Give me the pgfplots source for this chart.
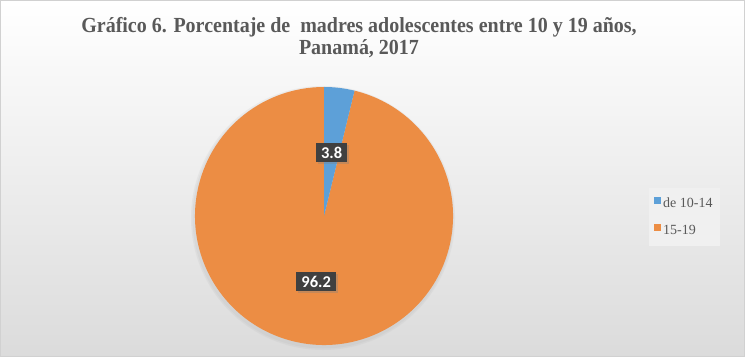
\documentclass[border=0pt]{standalone}
\usepackage{fontspec}
\setmainfont{Liberation Serif}
\newfontfamily\titlefont[FakeStretch=0.93]{Liberation Serif}
\newfontfamily\lblfont{Carlito}
\usepackage{pgfplots}
\usepackage{pgfplotstable}
\pgfplotsset{compat=1.18}
\usetikzlibrary{shadows,calc}
\definecolor{pieblue}{HTML}{5DA0D8}
\definecolor{pieorange}{HTML}{EC8D44}
\definecolor{titlegray}{HTML}{595959}
\definecolor{lblbox}{HTML}{404040}
\pgfplotstableread{
label value
{de 10-14} 3.8
15-19 96.2
}\piedata
\pgfplotstablegetelem{0}{value}\of\piedata
\xdef\valA{\pgfplotsretval}
\pgfplotstablegetelem{1}{value}\of\piedata
\xdef\valB{\pgfplotsretval}
\pgfmathsetmacro\aend{90-3.6*\valA}
\pgfmathsetmacro\amidA{(90+\aend)/2}
\pgfmathsetmacro\amidB{(\aend-270)/2}
\begin{document}
\begin{tikzpicture}[x=1bp,y=1bp]
\shade[top color=white, bottom color=black!14, draw=black!18, line width=0.8bp] (0.4,0.4) rectangle (744.6,356.6);
\begin{axis}[
  at={(0,0)}, anchor=south west,
  width=745bp, height=357bp, scale only axis,
  xmin=0, xmax=745, ymin=0, ymax=357,
  hide axis, clip=false,
  legend style={at={(axis cs:649,169)}, anchor=north west,
    fill=black!6, draw=none, font=\fontsize{14bp}{16bp}\selectfont, text=titlegray,
    row sep=12bp, inner xsep=5bp, inner ysep=8bp},
  legend cell align=left,
  legend image code/.code={\fill[draw=none,#1] (3bp,-0.5bp) rectangle (10bp,6.5bp);},
]
% soft shadow
\fill[black!30, opacity=0.15] (axis cs:323,139) circle[radius=132bp];
\fill[black!30, opacity=0.15] (axis cs:323,139) circle[radius=130.5bp];
\fill[pieorange] (axis cs:324,141) -- ++(\aend:129bp) arc[start angle=\aend, end angle=-270, radius=129bp] -- cycle;
\fill[pieblue] (axis cs:324,141) -- ++(90:129bp) arc[start angle=90, end angle=\aend, radius=129bp] -- cycle;
\addlegendimage{fill=pieblue, draw=none}
\addlegendentry{de 10-14}
\addlegendimage{fill=pieorange, draw=none}
\addlegendentry{15-19}
\node[fill=lblbox, text=white, font=\lblfont\bfseries\fontsize{16.5bp}{18bp}\selectfont, inner xsep=5bp, inner ysep=4bp, drop shadow={opacity=0.35, shadow xshift=2bp, shadow yshift=-2bp}]
  at ($(axis cs:324,141)+(\amidA:64bp)$) {\valA};
\node[fill=lblbox, text=white, font=\lblfont\bfseries\fontsize{16.5bp}{18bp}\selectfont, inner xsep=5bp, inner ysep=4bp, drop shadow={opacity=0.35, shadow xshift=2bp, shadow yshift=-2bp}]
  at ($(axis cs:324,141)+(\amidB:66bp)$) {\valB};
\end{axis}
\node[text=titlegray, font=\titlefont\bfseries\fontsize{21.5bp}{22bp}\selectfont, align=center, anchor=north] at (359,343)
  {Gráfico 6. Porcentaje de\ \ madres adolescentes entre 10 y 19 años,\\Panamá, 2017};
\end{tikzpicture}
\end{document}
